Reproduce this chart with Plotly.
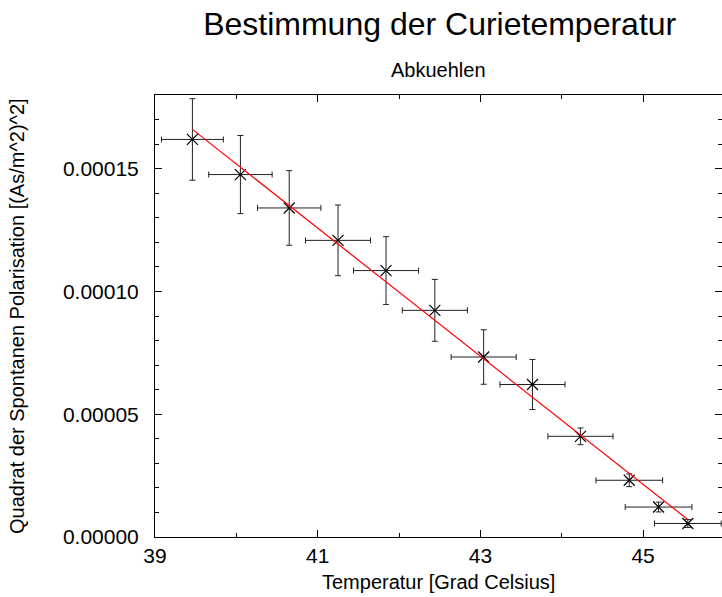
import plotly.graph_objects as go

# Measured data (Abkuehlen)
temperature = [39.46, 40.05, 40.65, 41.25, 41.84, 42.44, 43.04, 43.64, 44.23, 44.83, 45.19, 45.55]
polarisation_sq = [1.619e-4, 1.476e-4, 1.340e-4, 1.208e-4, 1.085e-4, 9.23e-5, 7.33e-5, 6.21e-5,
                   4.10e-5, 2.31e-5, 1.22e-5, 5.5e-6]
temperature_err = [0.38, 0.39, 0.39, 0.40, 0.40, 0.40, 0.40, 0.40, 0.40, 0.41, 0.41, 0.41]
polarisation_err = [1.66e-5, 1.59e-5, 1.52e-5, 1.44e-5, 1.38e-5, 1.26e-5, 1.11e-5, 1.02e-5,
                    3.4e-6, 2.6e-6, 2.0e-6, 1.6e-6]

# Linear fit line end points
fit_x = [39.46, 45.55]
fit_y = [1.660e-4, 7.1e-6]

x_tickvals = [39, 41, 43, 45]
y_tickvals = [0.0, 0.00005, 0.00010, 0.00015]

FONT = "Liberation Sans, Arial, sans-serif"

fig = go.Figure()

fig.add_trace(go.Scatter(
    x=temperature, y=polarisation_sq, mode="markers",
    marker=dict(symbol="x-thin", size=11, line=dict(color="black", width=1.2), color="black"),
    error_x=dict(type="data", array=temperature_err, visible=True, color="#222", thickness=1, width=3),
    error_y=dict(type="data", array=polarisation_err, visible=True, color="#222", thickness=1, width=3),
    showlegend=False,
))

fig.add_trace(go.Scatter(
    x=fit_x, y=fit_y, mode="lines",
    line=dict(color="red", width=1.2),
    showlegend=False,
))

axis_common = dict(
    showline=True, linecolor="black", linewidth=1, mirror="allticks",
    ticks="inside", ticklen=7, tickwidth=1, tickcolor="black",
    showgrid=False, zeroline=False,
    tickfont=dict(family=FONT, size=21, color="black"),
)

fig.update_layout(
    width=722, height=597,
    margin=dict(l=155, r=0, t=95, b=60),
    paper_bgcolor="white", plot_bgcolor="white",
    title=dict(text="Bestimmung der Curietemperatur", x=0.609, xanchor="center",
               y=0.96, yanchor="middle",
               font=dict(family=FONT, size=32, color="black")),
    xaxis=dict(range=[39, 45.97], tickvals=x_tickvals, ticktext=[str(v) for v in x_tickvals],
               minor=dict(dtick=1, tick0=39, ticks="inside", ticklen=4, tickcolor="black"),
               **axis_common),
    yaxis=dict(range=[0, 0.00018], tickvals=y_tickvals, tickformat=".5f",
               minor=dict(dtick=0.00001, tick0=0, ticks="inside", ticklen=4, tickcolor="black"),
               ticklabelstandoff=11,
               **axis_common),
    annotations=[
        dict(text="Abkuehlen", xref="paper", yref="paper", x=0.5, y=1.0, yshift=25,
             xanchor="center", yanchor="middle", showarrow=False,
             font=dict(family=FONT, size=20, color="black")),
        dict(text="Temperatur [Grad Celsius]", xref="paper", yref="paper", x=0.5, y=0,
             yshift=-45, xanchor="center", yanchor="middle", showarrow=False,
             font=dict(family=FONT, size=20, color="black")),
        dict(text="Quadrat der Spontanen Polarisation [(As/m^2)^2]", xref="paper", yref="paper",
             x=0, xshift=-138, y=0.5, xanchor="center", yanchor="middle", textangle=-90,
             showarrow=False, font=dict(family=FONT, size=20, color="black")),
    ],
)

fig.write_html("out.html")
